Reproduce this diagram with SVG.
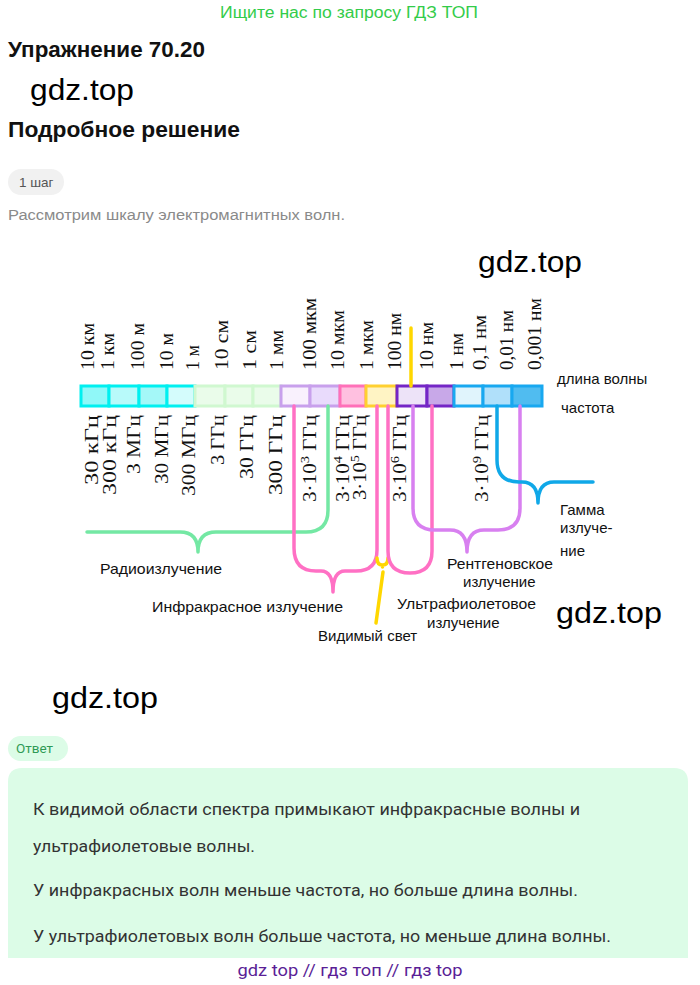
<svg xmlns="http://www.w3.org/2000/svg" width="700" height="985" viewBox="0 0 700 985">
<style>
.sans{font-family:"Liberation Sans",Arial,sans-serif}
.ser{font-family:"Liberation Serif","Times New Roman",serif;font-size:19px;fill:#111}
.lab{font-family:"Liberation Sans",Arial,sans-serif;font-size:15px;fill:#111}
.wm{font-family:"Liberation Sans",Arial,sans-serif;font-size:30px;fill:#000}
.ans{font-family:Roboto,"Liberation Sans",sans-serif;font-size:17px;fill:#333}
.br{fill:none;stroke-width:3.5;stroke-linecap:round;stroke-linejoin:round}
.cell{stroke-width:3}
</style>
<rect width="700" height="985" fill="#fff"/>

<g id="header">
<text x="349" y="18" text-anchor="middle" class="sans" font-size="16" fill="#33cc4a" textLength="258" lengthAdjust="spacingAndGlyphs">Ищите нас по запросу ГДЗ ТОП</text>
<text x="8" y="57" class="sans" font-size="22" font-weight="bold" fill="#111" textLength="197" lengthAdjust="spacingAndGlyphs">Упражнение 70.20</text>
<text x="30" y="100" class="wm" textLength="104" lengthAdjust="spacingAndGlyphs">gdz.top</text>
<text x="8" y="137" class="sans" font-size="22" font-weight="bold" fill="#111" textLength="232" lengthAdjust="spacingAndGlyphs">Подробное решение</text>
<rect x="8" y="169" width="56" height="26" rx="13" fill="#f1f1f1"/>
<text x="19" y="187" class="sans" font-size="13.5" fill="#555">1 шаг</text>
<text x="8" y="220" class="sans" font-size="15.5" fill="#8a8a8a" textLength="337" lengthAdjust="spacingAndGlyphs">Рассмотрим шкалу электромагнитных волн.</text>
<text x="478" y="272" class="wm" textLength="104" lengthAdjust="spacingAndGlyphs">gdz.top</text>
</g>

<g id="bar">
<rect class="cell" x="81" y="386" width="28" height="20" fill="#90f8f8" stroke="#00f0f0"/>
<rect class="cell" x="109" y="386" width="30" height="20" fill="#b8fafa" stroke="#00f0f0"/>
<rect class="cell" x="139" y="386" width="28" height="20" fill="#a4f8f8" stroke="#00f0f0"/>
<rect class="cell" x="167" y="386" width="28" height="20" fill="#d4fcfc" stroke="#00f0f0"/>
<rect class="cell" x="195" y="386" width="30" height="20" fill="#eafcea" stroke="#d0f8d0"/>
<rect class="cell" x="225" y="386" width="28" height="20" fill="#eafcea" stroke="#d0f8d0"/>
<rect class="cell" x="253" y="386" width="28" height="20" fill="#eafcea" stroke="#d0f8d0"/>
<rect class="cell" x="281" y="386" width="29" height="20" fill="#f9f1fd" stroke="#c8a0ec"/>
<rect class="cell" x="310" y="386" width="30" height="20" fill="#e9dbfc" stroke="#c8a0ec"/>
<rect class="cell" x="340" y="386" width="26" height="20" fill="#ffc0e0" stroke="#ff70b8"/>
<rect class="cell" x="366" y="386" width="31" height="20" fill="#fff4c4" stroke="#ffd030"/>
<rect class="cell" x="397" y="386" width="30" height="20" fill="#ede3f8" stroke="#7426c6"/>
<rect class="cell" x="427" y="386" width="27" height="20" fill="#c8a8e8" stroke="#7426c6"/>
<rect class="cell" x="454" y="386" width="29" height="20" fill="#e0f4fc" stroke="#18a8f0"/>
<rect class="cell" x="483" y="386" width="29" height="20" fill="#b0e0fa" stroke="#18a8f0"/>
<rect class="cell" x="512" y="386" width="30" height="20" fill="#50bcf0" stroke="#18a8f0"/>
</g>

<g id="wavelengths" class="ser">
<text transform="translate(94,370) rotate(-90)" textLength="47" lengthAdjust="spacingAndGlyphs">10 км</text>
<text transform="translate(114,370) rotate(-90)" textLength="37" lengthAdjust="spacingAndGlyphs">1 км</text>
<text transform="translate(144,370) rotate(-90)" textLength="47" lengthAdjust="spacingAndGlyphs">100 м</text>
<text transform="translate(173,370) rotate(-90)" textLength="37" lengthAdjust="spacingAndGlyphs">10 м</text>
<text transform="translate(199,370) rotate(-90)" textLength="25" lengthAdjust="spacingAndGlyphs">1 м</text>
<text transform="translate(228,370) rotate(-90)" textLength="50" lengthAdjust="spacingAndGlyphs">10 см</text>
<text transform="translate(256,370) rotate(-90)" textLength="40" lengthAdjust="spacingAndGlyphs">1 см</text>
<text transform="translate(283,370) rotate(-90)" textLength="40" lengthAdjust="spacingAndGlyphs">1 мм</text>
<text transform="translate(316,370) rotate(-90)" textLength="72" lengthAdjust="spacingAndGlyphs">100 мкм</text>
<text transform="translate(344,370) rotate(-90)" textLength="60" lengthAdjust="spacingAndGlyphs">10 мкм</text>
<text transform="translate(373,370) rotate(-90)" textLength="50" lengthAdjust="spacingAndGlyphs">1 мкм</text>
<text transform="translate(401,370) rotate(-90)" textLength="57" lengthAdjust="spacingAndGlyphs">100 нм</text>
<text transform="translate(433,370) rotate(-90)" textLength="48" lengthAdjust="spacingAndGlyphs">10 нм</text>
<text transform="translate(463,370) rotate(-90)" textLength="37" lengthAdjust="spacingAndGlyphs">1 нм</text>
<text transform="translate(486,370) rotate(-90)" textLength="55" lengthAdjust="spacingAndGlyphs">0,1 нм</text>
<text transform="translate(513,370) rotate(-90)" textLength="60" lengthAdjust="spacingAndGlyphs">0,01 нм</text>
<text transform="translate(541,370) rotate(-90)" textLength="72" lengthAdjust="spacingAndGlyphs">0,001 нм</text>
</g>

<g id="frequencies" class="ser" text-anchor="end">
<text transform="translate(98,415) rotate(-90)" textLength="70" lengthAdjust="spacingAndGlyphs">30 кГц</text>
<text transform="translate(116,415) rotate(-90)" textLength="80" lengthAdjust="spacingAndGlyphs">300 кГц</text>
<text transform="translate(140,415) rotate(-90)" textLength="59" lengthAdjust="spacingAndGlyphs">3 МГц</text>
<text transform="translate(168,415) rotate(-90)" textLength="69" lengthAdjust="spacingAndGlyphs">30 МГц</text>
<text transform="translate(195,415) rotate(-90)" textLength="81" lengthAdjust="spacingAndGlyphs">300 МГц</text>
<text transform="translate(224,415) rotate(-90)" textLength="50" lengthAdjust="spacingAndGlyphs">3 ГГц</text>
<text transform="translate(253,415) rotate(-90)" textLength="64" lengthAdjust="spacingAndGlyphs">30 ГГц</text>
<text transform="translate(282,415) rotate(-90)" textLength="80" lengthAdjust="spacingAndGlyphs">300 ГГц</text>
<text transform="translate(316,415) rotate(-90)" textLength="87" lengthAdjust="spacingAndGlyphs">3·10<tspan dy="-7" font-size="13">3</tspan><tspan dy="7"> ГГц</tspan></text>
<text transform="translate(349,415) rotate(-90)" textLength="87" lengthAdjust="spacingAndGlyphs">3·10<tspan dy="-7" font-size="13">4</tspan><tspan dy="7"> ГГц</tspan></text>
<text transform="translate(366,415) rotate(-90)" textLength="85" lengthAdjust="spacingAndGlyphs">3·10<tspan dy="-7" font-size="13">5</tspan><tspan dy="7"> ГГц</tspan></text>
<text transform="translate(406,415) rotate(-90)" textLength="87" lengthAdjust="spacingAndGlyphs">3·10<tspan dy="-7" font-size="13">6</tspan><tspan dy="7"> ГГц</tspan></text>
<text transform="translate(488,415) rotate(-90)" textLength="87" lengthAdjust="spacingAndGlyphs">3·10<tspan dy="-7" font-size="13">9</tspan><tspan dy="7"> ГГц</tspan></text>
</g>

<g id="axis-labels" class="lab" font-size="14.5">
<text x="557" y="384">длина волны</text>
<text x="561" y="413">частота</text>
</g>

<g id="connectors">
<path class="br" stroke="#74e8a4" d="M87,532 H180 Q198,532 198,552 Q198,532 216,532 H306 Q328,532 328,510 V406"/>
<path class="br" stroke="#ff70c4" d="M294,406 V548 Q294,571 316,571 H321 Q333,571 333,592 Q333,571 345,571 H356 Q377,571 377,550 V406"/>
<path class="br" stroke="#ffd700" d="M377,558 Q377,565 382.5,565 Q388,565 388,558 M382.5,565 V567"/>
<path class="br" stroke="#ffd700" d="M383,572 L376,623"/>
<path class="br" stroke="#ffd700" d="M411,328 V386"/>
<path class="br" stroke="#ff70c4" d="M388,406 V551 Q388,573 410,573 Q432,573 432,551 V406"/>
<path class="br" stroke="#d880f0" d="M413,406 V508 Q413,530 435,530 H450 Q467,530 467,552 Q467,530 484,530 H498 Q520,530 520,508 V406"/>
<path class="br" stroke="#10a8e8" d="M497,406 V460 Q497,482 519,482 H522 Q538,482 538,503 Q538,482 554,482 H593"/>
</g>

<g id="radio"><text class="lab" x="100" y="574" textLength="122" lengthAdjust="spacingAndGlyphs">Радиоизлучение</text></g>
<g id="infrared"><text class="lab" x="152" y="612" textLength="191" lengthAdjust="spacingAndGlyphs">Инфракрасное излучение</text></g>
<g id="visible"><text class="lab" x="318" y="641">Видимый свет</text></g>
<g id="uv"><text class="lab" x="397" y="609" textLength="139" lengthAdjust="spacingAndGlyphs">Ультрафиолетовое</text><text class="lab" x="427" y="628">излучение</text></g>
<g id="xray"><text class="lab" x="447" y="569" textLength="106" lengthAdjust="spacingAndGlyphs">Рентгеновское</text><text class="lab" x="463" y="587">излучение</text></g>
<g id="gamma"><text class="lab" x="560" y="515">Гамма</text><text class="lab" x="560" y="533">излуче-</text><text class="lab" x="560" y="556">ние</text></g>

<g id="watermarks">
<text x="556" y="623" class="wm" textLength="106" lengthAdjust="spacingAndGlyphs">gdz.top</text>
<text x="52" y="708" class="wm" textLength="106" lengthAdjust="spacingAndGlyphs">gdz.top</text>
</g>

<g id="answer">
<rect x="8" y="736" width="60" height="25" rx="12.5" fill="#dcfce7"/>
<text x="16" y="753" font-family="Roboto,'Liberation Sans',sans-serif" font-size="13.5" fill="#2f9a55">Ответ</text>
<path d="M8,782 Q8,768 22,768 H674 Q688,768 688,782 V958 H8 Z" fill="#dcfce7"/>
<text class="ans" x="33" y="815" textLength="547" lengthAdjust="spacingAndGlyphs">К видимой области спектра примыкают инфракрасные волны и</text>
<text class="ans" x="33" y="852" textLength="222" lengthAdjust="spacingAndGlyphs">ультрафиолетовые волны.</text>
<text class="ans" x="33" y="896" textLength="545" lengthAdjust="spacingAndGlyphs">У инфракрасных волн меньше частота, но больше длина волны.</text>
<text class="ans" x="33" y="942" textLength="578" lengthAdjust="spacingAndGlyphs">У ультрафиолетовых волн больше частота, но меньше длина волны.</text>
</g>

<g id="footer">
<text x="350" y="976" text-anchor="middle" font-family="Roboto,'Liberation Sans',sans-serif" font-size="17" fill="#5a1e96" textLength="225" lengthAdjust="spacingAndGlyphs">gdz top  //  гдз топ  //  гдз top</text>
</g>
</svg>
